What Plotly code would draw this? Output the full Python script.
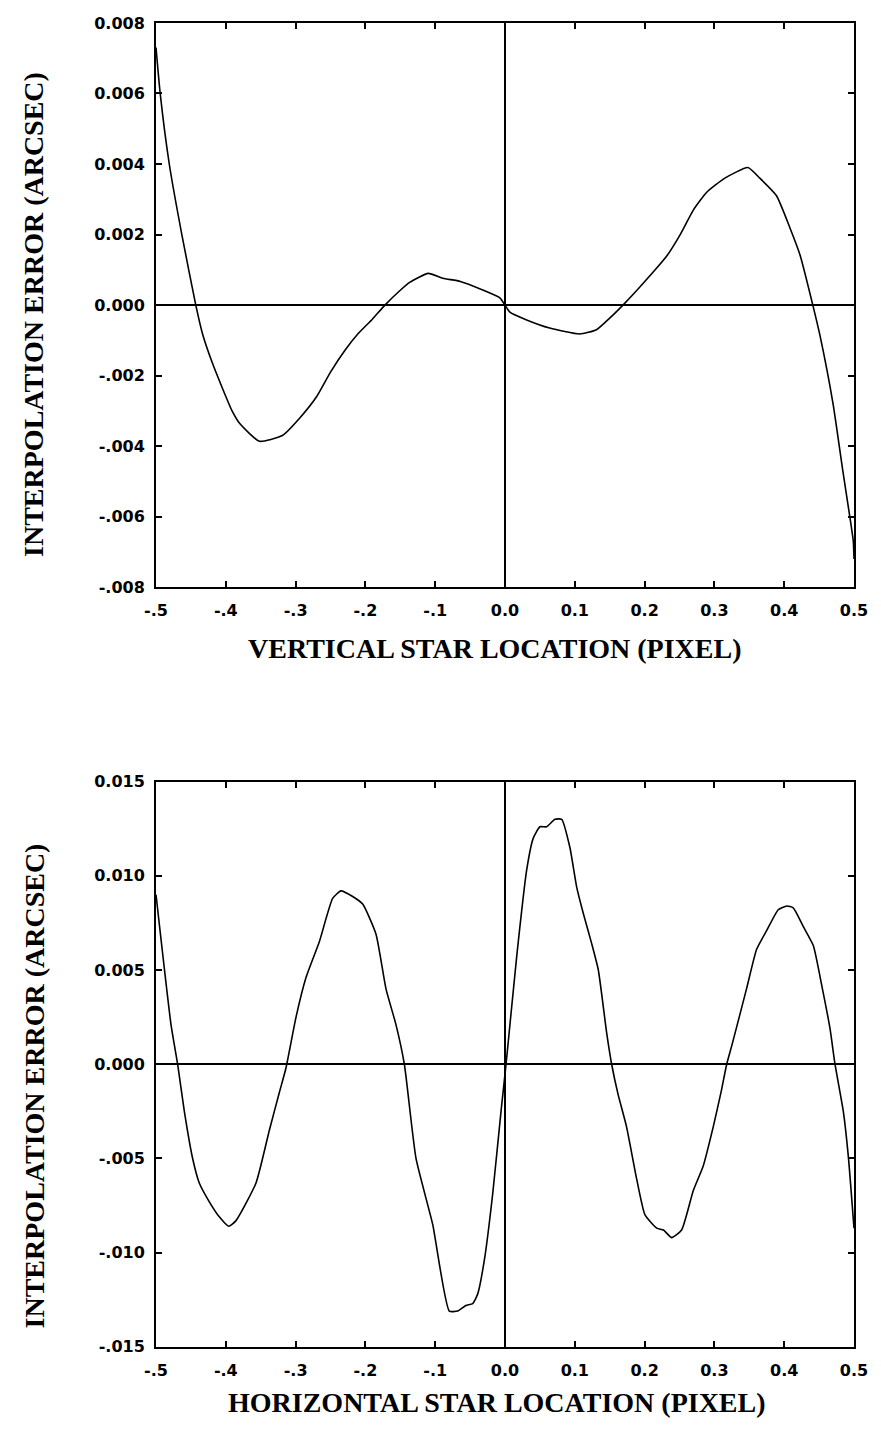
import plotly.graph_objects as go

# ---------------- data ----------------
x_vertical = [-0.5, -0.494, -0.481, -0.463, -0.443, -0.433, -0.420, -0.406, -0.391, -0.380,
              -0.352, -0.319, -0.294, -0.27, -0.25, -0.23, -0.21, -0.19, -0.172, -0.15,
              -0.136, -0.11, -0.089, -0.064, -0.031, -0.007, 0.0, 0.007, 0.031, 0.064,
              0.107, 0.131, 0.150, 0.169, 0.189, 0.212, 0.232, 0.251, 0.270, 0.289,
              0.315, 0.348, 0.365, 0.389, 0.408, 0.423, 0.441, 0.451, 0.470, 0.484,
              0.494, 0.499, 0.5]
err_vertical = [0.0073, 0.0060, 0.0040, 0.0020, 0.0, -0.00084, -0.0016, -0.0023, -0.0030, -0.00336,
                -0.00386, -0.0037, -0.0032, -0.0026, -0.0019, -0.0013, -0.0008, -0.0004, 0.0, 0.00042,
                0.00065, 0.0009, 0.00076, 0.00067, 0.00042, 0.0002, 0.0, -0.0002, -0.00042, -0.00065,
                -0.00082, -0.0007, -0.00037, 0.0, 0.00042, 0.00093, 0.0014, 0.0020, 0.0027, 0.0032,
                0.0036, 0.0039, 0.0036, 0.0031, 0.0022, 0.0014, 0.0, -0.00084, -0.0028, -0.0047,
                -0.0060, -0.0067, -0.0072]

x_horizontal = [-0.5, -0.4785, -0.469, -0.4594, -0.4475, -0.438, -0.4236, -0.4093, -0.3959, -0.3854,
                -0.3567, -0.3376, -0.3233, -0.3138, -0.2994, -0.2851, -0.266, -0.2469, -0.235, -0.2183,
                -0.2039, -0.1848, -0.1705, -0.1562, -0.1442, -0.1275, -0.1036, -0.0798, -0.0678, -0.056,
                -0.0463, -0.0392, -0.0296, -0.0177, -0.0057, 0.0015, 0.0167, 0.031, 0.0405, 0.050,
                0.0597, 0.0716, 0.0812, 0.093, 0.1027, 0.1122, 0.1242, 0.1337, 0.1457, 0.1528,
                0.162, 0.174, 0.1887, 0.2006, 0.2174, 0.227, 0.2388, 0.253, 0.2698, 0.284,
                0.2985, 0.310, 0.3176, 0.325, 0.346, 0.3605, 0.375, 0.3915, 0.4036, 0.413,
                0.4274, 0.4417, 0.4537, 0.4656, 0.4728, 0.4847, 0.4919, 0.5]
err_horizontal = [0.0090, 0.0021, 0.0, -0.0025, -0.0050, -0.0063, -0.0073, -0.0081, -0.0086, -0.0083,
                  -0.0063, -0.0035, -0.0015, -0.0002, 0.0025, 0.0046, 0.0065, 0.0088, 0.0092, 0.0089,
                  0.0085, 0.0069, 0.0040, 0.0021, 0.0, -0.0050, -0.0085, -0.0131, -0.0131, -0.0128,
                  -0.0127, -0.0122, -0.0104, -0.0069, -0.0025, 0.0, 0.0057, 0.0103, 0.0120, 0.0126,
                  0.0126, 0.0130, 0.0130, 0.0115, 0.0094, 0.0080, 0.0064, 0.0050, 0.00165, 0.0,
                  -0.0016, -0.0033, -0.0061, -0.0080, -0.0087, -0.0088, -0.0092, -0.0088, -0.0067, -0.0054,
                  -0.0033, -0.0014, 0.0, 0.0010, 0.0040, 0.0061, 0.0071, 0.0082, 0.0084, 0.0083,
                  0.0073, 0.0063, 0.0042, 0.0019, 0.0, -0.0025, -0.0049, -0.0087]

x_tickvals = [-0.5, -0.4, -0.3, -0.2, -0.1, 0.0, 0.1, 0.2, 0.3, 0.4, 0.5]
x_ticktext = ["-.5", "-.4", "-.3", "-.2", "-.1", "0.0", "0.1", "0.2", "0.3", "0.4", "0.5"]
y1_tickvals = [0.008, 0.006, 0.004, 0.002, 0.0, -0.002, -0.004, -0.006, -0.008]
y1_ticktext = ["0.008", "0.006", "0.004", "0.002", "0.000", "-.002", "-.004", "-.006", "-.008"]
y2_tickvals = [0.015, 0.010, 0.005, 0.0, -0.005, -0.010, -0.015]
y2_ticktext = ["0.015", "0.010", "0.005", "0.000", "-.005", "-.010", "-.015"]

x_title_top = "VERTICAL STAR LOCATION (PIXEL)"
x_title_bottom = "HORIZONTAL STAR LOCATION (PIXEL)"
y_title = "INTERPOLATION ERROR (ARCSEC)"

assert len(x_vertical) == len(err_vertical)
assert len(x_horizontal) == len(err_horizontal)

# ---------------- layout geometry (screen pixels) ----------------
PAGE_W, PAGE_H = 881, 1430
BODY = 8                      # default body margin of the html page
W, H = PAGE_W - 2 * BODY, PAGE_H - 2 * BODY
S_L, S_R = 156, 854           # plot left/right on screen
S_TOP1, S_BOT1 = 14, 586
S_TOP2, S_BOT2 = 783, 1356
L, R = S_L - BODY, S_R - BODY


def py(s):
    return 1 - (s - BODY) / H


def px(s):
    return (s - BODY - L) / (R - L)


tick_font = dict(family="DejaVu Sans", size=16, color="black", weight="bold")
title_font = dict(family="Liberation Serif", size=28, color="black", weight="bold")

fig = go.Figure()
fig.add_trace(go.Scatter(x=x_vertical, y=err_vertical, mode="lines",
                         line=dict(color="black", width=1.6, shape="spline", smoothing=0.5),
                         xaxis="x", yaxis="y", showlegend=False))
fig.add_trace(go.Scatter(x=x_horizontal, y=err_horizontal, mode="lines",
                         line=dict(color="black", width=1.6, shape="spline", smoothing=0.5),
                         xaxis="x2", yaxis="y2", showlegend=False))

common_axis = dict(showline=True, linecolor="black", linewidth=2, mirror="ticks",
                   ticks="inside", ticklen=6, tickwidth=1.5, tickcolor="black",
                   showgrid=False, zeroline=True, zerolinecolor="black", zerolinewidth=1.6,
                   tickfont=tick_font)

fig.update_layout(
    width=W, height=H,
    margin=dict(l=L, r=W - R, t=0, b=0),
    paper_bgcolor="white", plot_bgcolor="white",
    xaxis=dict(domain=[0, 1], anchor="y", range=[-0.5, 0.5], tickvals=x_tickvals,
               ticktext=x_ticktext, ticklabelstandoff=8, **common_axis),
    yaxis=dict(domain=[py(S_BOT1), py(S_TOP1)], anchor="x", range=[-0.008, 0.008],
               tickvals=y1_tickvals, ticktext=y1_ticktext, ticklabelstandoff=6, **common_axis),
    xaxis2=dict(domain=[0, 1], anchor="y2", range=[-0.5, 0.5], tickvals=x_tickvals,
                ticktext=x_ticktext, ticklabelstandoff=8, **common_axis),
    yaxis2=dict(domain=[py(S_BOT2), py(S_TOP2)], anchor="x2", range=[-0.015, 0.015],
                tickvals=y2_tickvals, ticktext=y2_ticktext, ticklabelstandoff=6, **common_axis),
)

fig.add_annotation(text=x_title_top, xref="paper", yref="paper", x=px(495), y=py(648),
                   showarrow=False, font=title_font, xanchor="center", yanchor="middle")
fig.add_annotation(text=x_title_bottom, xref="paper", yref="paper", x=px(497), y=py(1412),
                   showarrow=False, font=title_font, xanchor="center", yanchor="middle")
fig.add_annotation(text=y_title, xref="paper", yref="paper", x=px(34), y=py(310),
                   showarrow=False, font=title_font, textangle=-90,
                   xanchor="center", yanchor="middle")
fig.add_annotation(text=y_title, xref="paper", yref="paper", x=px(34), y=py(1092),
                   showarrow=False, font=title_font, textangle=-90,
                   xanchor="center", yanchor="middle")

fig.write_html("out.html")
